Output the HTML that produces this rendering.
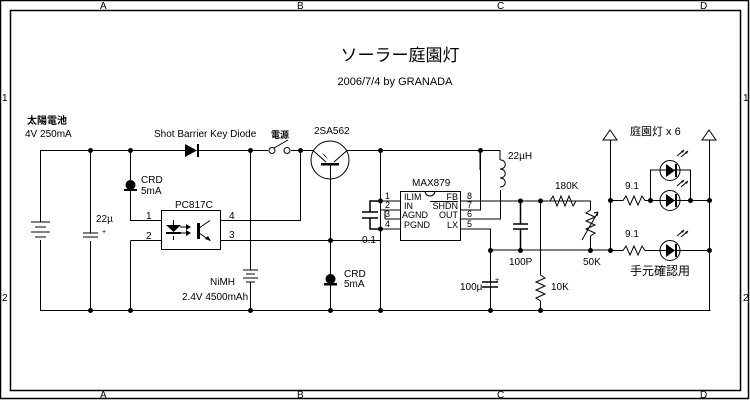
<!DOCTYPE html>
<html><head><meta charset="utf-8"><style>
html,body{margin:0;padding:0;background:#fff;width:750px;height:400px;overflow:hidden}
svg{display:block}
text{font-family:"Liberation Sans","Noto Sans CJK JP",sans-serif;font-size:10px;fill:#000}
.c{font-size:9px}
</style></head><body>
<svg width="750" height="400" viewBox="0 0 750 400" xmlns="http://www.w3.org/2000/svg">
<g fill="none" stroke="#000" stroke-width="1">
<rect x="0.5" y="0.5" width="748" height="398" stroke-width="1.5"/>
<rect x="10.5" y="10.5" width="730" height="380" stroke-width="1.5"/>
</g>
<text x="100" y="9">A</text><text x="297" y="9">B</text><text x="497" y="9">C</text><text x="700" y="9">D</text>
<text x="100" y="398">A</text><text x="297" y="398">B</text><text x="497" y="398">C</text><text x="700" y="398">D</text>
<text x="2" y="101">1</text><text x="2" y="301">2</text><text x="743" y="101">1</text><text x="743" y="301">2</text>
<text x="400" y="61" text-anchor="middle" style="font-size:17px">ソーラー庭園灯</text>
<text x="395" y="85" text-anchor="middle" style="font-size:11px">2006/7/4 by GRANADA</text>

<g fill="none" stroke="#000" stroke-width="1">
<path d="M40,150.5H185M199,150.5H268M291,150.5H313M347,150.5H480V170"/>
<path d="M480,150.5H500V160"/>
<path d="M40.5,150V222M40.5,240V310.5H710.5"/>
<path d="M31,222H50M35,227H46M31,232H50M35,237H46"/>
<path d="M90.5,150V233M90.5,241V310M83,233H98M83,237H98" />
<path d="M130.5,150V180M130.5,190V220.5H161M124,190H137"/>
<path d="M130.5,240.5V310M130.5,240.5H161"/>
<rect x="161.5" y="210.5" width="59" height="39"/>
<path d="M221,220.5H300.5V150M221,240.5H380"/>
<path d="M173.5,220V225M173.5,236V240"/>
<path d="M198.5,224V237M199,228L210,220.5M199,233L210,240.5"/>
<path d="M180,227H190M180,233H190"/>
<circle cx="272" cy="150.5" r="3"/><circle cx="287" cy="150.5" r="3"/>
<path d="M274,148L288,140"/>
<path d="M250.5,150V270M250.5,282V310M243,270H258M246,274H255M243,278H258M246,282H255"/>
<circle cx="330" cy="160" r="19"/>
<path d="M313,150.5L326,162M347,150.5L334,162M321,165H339M330.5,165V275M330.5,285V310"/>
<path d="M324,285H337"/>
<path d="M380.5,150V310M380,201H400M380,210H400M385,219H400M385,219V210M380,229H400"/>
<path d="M380,201H370V212M370,218V229H380M362,212H378M362,218H378" stroke-width="1.5"/>
<rect x="400.5" y="191.5" width="60" height="49"/>
<path d="M425,191A5,5 0 0 0 435,191"/>
<path d="M461,201H590M461,210H480.5V150M461,219H500.5V190M461,229H490.5V310M490.5,250H610"/>
<path d="M500.5,160C507,160 507,169 500,169C507,169 507,178 500,178C507,178 507,187 500,187" />
<path d="M482,282H498M482,287H498" stroke-width="1.5"/>
<path d="M520.5,201V224M520.5,229V250M513,224H528M513,229H528" stroke-width="1.5"/>
<path d="M540.5,201V275L545,278L536,282L545,286L536,290L545,294L536,298L540.5,301V310"/>
<path d="M550,201L553,196L557,206L561,196L565,206L569,196L573,206L576,201H590.5V210L586,213L595,217L586,221L595,225L586,229L595,233L590.5,236V250"/>
<path d="M582,240L598,212M598,212L594,213M598,212L597,216"/>
<path d="M610.5,140V250M709.5,140V310M603,140H617L610,130Z M702,140H716L709,130Z"/>
<path d="M610,200.5H623L626,196L630,205L634,196L638,205L642,196L645,200.5H710"/>
<path d="M610,250.5H623L626,246L630,255L634,246L638,255L642,246L645,250.5H710"/>
<path d="M650.5,200V170H690.5V200"/>
<circle cx="670" cy="170.5" r="10"/><circle cx="670" cy="200.5" r="10"/><circle cx="670" cy="250.5" r="10"/>
<path d="M677,156L684,150M681,157L688,151M677,186L684,180M681,187L688,181M677,236L684,230M681,237L688,231"/>
</g>
<g fill="#000">
<path d="M185,144V157L197,150.5Z"/><rect x="197" y="144" width="2" height="13"/>
<path d="M166,225H181L173.5,232Z"/><rect x="166" y="232" width="15" height="2"/>
<path d="M186,224L191,227L186,230Z M186,230L191,233L186,236Z"/>
<rect x="197" y="223" width="3" height="16"/>
<path d="M211,241L205,239L208,236Z"/>
<path d="M322,153L328,160L325,155Z"/>
<rect x="321" y="163" width="18" height="2"/>
<circle cx="130.5" cy="185" r="5"/><rect x="124" y="189" width="13" height="2"/>
<circle cx="330.5" cy="279" r="5"/><rect x="324" y="283" width="13" height="2"/>
<path d="M666,164V177L675,170.5Z M666,194V207L675,200.5Z M666,244V257L675,250.5Z"/>
<rect x="675" y="164" width="2" height="13"/><rect x="675" y="194" width="2" height="13"/><rect x="675" y="244" width="2" height="13"/>
<path d="M684,150l-3,1l2,2Z M688,151l-3,1l2,2Z M684,180l-3,1l2,2Z M688,181l-3,1l2,2Z M684,230l-3,1l2,2Z M688,231l-3,1l2,2Z"/>
<g>
<circle cx="90.5" cy="150.5" r="2.5"/><circle cx="130.5" cy="150.5" r="2.5"/><circle cx="250.5" cy="150.5" r="2.5"/><circle cx="300.5" cy="150.5" r="2.5"/>
<circle cx="380.5" cy="150.5" r="2.5"/><circle cx="480.5" cy="150.5" r="2.5"/>
<circle cx="90.5" cy="310.5" r="2.5"/><circle cx="130.5" cy="310.5" r="2.5"/><circle cx="250.5" cy="310.5" r="2.5"/><circle cx="330.5" cy="310.5" r="2.5"/><circle cx="380.5" cy="310.5" r="2.5"/><circle cx="490.5" cy="310.5" r="2.5"/><circle cx="540.5" cy="310.5" r="2.5"/>
<circle cx="330.5" cy="240.5" r="2.5"/>
<circle cx="380.5" cy="201" r="2.5"/><circle cx="380.5" cy="229" r="2.5"/>
<circle cx="520.5" cy="201" r="2.5"/><circle cx="540.5" cy="201" r="2.5"/>
<circle cx="490.5" cy="250.5" r="2.5"/><circle cx="520.5" cy="250.5" r="2.5"/><circle cx="590.5" cy="250.5" r="2.5"/><circle cx="610.5" cy="250.5" r="2.5"/>
<circle cx="610.5" cy="200.5" r="2.5"/><circle cx="650.5" cy="200.5" r="2.5"/><circle cx="690.5" cy="200.5" r="2.5"/><circle cx="709.5" cy="200.5" r="2.5"/><circle cx="709.5" cy="250.5" r="2.5"/>
</g>
</g>
<text x="27" y="124" style="font-weight:bold">太陽電池</text>
<text x="25" y="137">4V 250mA</text>
<text x="154" y="137">Shot Barrier Key Diode</text>
<text x="271" y="138" style="font-size:9px;font-weight:bold">電源</text>
<text x="314" y="134">2SA562</text>
<text x="141" y="183">CRD</text><text x="141" y="194">5mA</text>
<text x="175" y="208">PC817C</text>
<text x="146" y="219">1</text><text x="146" y="239">2</text><text x="229" y="219">4</text><text x="229" y="238">3</text>
<text x="96" y="222">22µ</text>
<text x="210" y="285">NiMH</text>
<text x="182" y="300">2.4V 4500mAh</text>
<text x="344" y="277">CRD</text><text x="344" y="287">5mA</text>
<text x="412" y="186">MAX879</text>
<text class="c" x="385" y="199">1</text><text class="c" x="385" y="208">2</text><text class="c" x="385" y="217">3</text><text class="c" x="385" y="227">4</text>
<text class="c" x="467" y="199">8</text><text class="c" x="467" y="208">7</text><text class="c" x="467" y="217">6</text><text class="c" x="467" y="227">5</text>
<text class="c" x="404" y="200">ILIM</text><text class="c" x="404" y="209">IN</text><text class="c" x="402" y="218">AGND</text><text class="c" x="404" y="228">PGND</text>
<text class="c" x="458" y="200" text-anchor="end">FB</text><text class="c" x="458" y="209" text-anchor="end">SHDN</text><text class="c" x="458" y="218" text-anchor="end">OUT</text><text class="c" x="458" y="228" text-anchor="end">LX</text>
<path d="M430,201.5H458" stroke="#000" stroke-width="1"/>
<text x="362" y="243">0.1</text>
<text x="508" y="159">22µH</text>
<text x="555" y="189">180K</text>
<text x="509" y="265">100P</text>
<text x="583" y="265">50K</text>
<text x="551" y="290">10K</text>
<text x="460" y="290">100µ</text>
<text x="495" y="282" style="font-size:7px">+</text>
<text x="102" y="234" style="font-size:7px">+</text>
<text x="630" y="135" style="font-size:11px">庭園灯 x 6</text>
<text x="625" y="189">9.1</text>
<text x="625" y="237">9.1</text>
<text x="630" y="275" style="font-size:12px">手元確認用</text>
</svg>
</body></html>
